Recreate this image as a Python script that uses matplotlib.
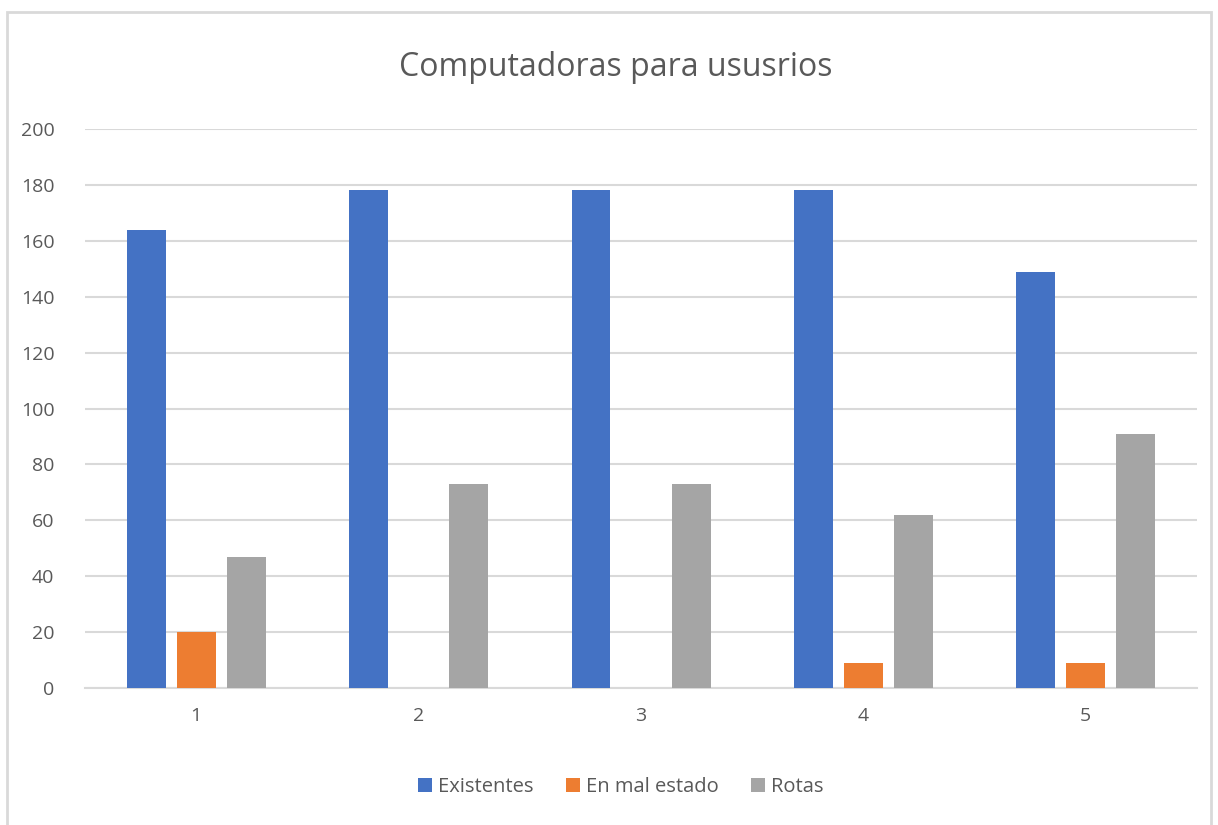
import matplotlib
matplotlib.use("Agg")
import matplotlib.pyplot as plt
import numpy as np
from matplotlib.patches import Rectangle

categories = ["1", "2", "3", "4", "5"]
existentes = [164, 178, 178, 178, 149]
mal_estado = [20, 0, 0, 9, 9]
rotas = [47, 73, 73, 62, 91]
series_names = ["Existentes", "En mal estado", "Rotas"]
colors = ["#4472C4", "#ED7D31", "#A5A5A5"]

plt.rcParams["font.family"] = ["Open Sans", "DejaVu Sans"]

fig = plt.figure(figsize=(12.18, 8.25), dpi=100)
ax = fig.add_axes([85 / 1218, 1 - 688 / 825, (1197 - 85) / 1218, (688 - 129) / 825])

# outer chart border
fig.patches.append(Rectangle((7 / 1218, -0.01), 1204 / 1218, 1 - 12 / 825 + 0.01,
                             transform=fig.transFigure, fill=False,
                             edgecolor="#D9D9D9", linewidth=2))

x = np.arange(len(categories))
w = 0.175
off = 0.225
for i, (vals, name) in enumerate(zip([existentes, mal_estado, rotas], series_names)):
    ax.bar(x + (i - 1) * off, vals, width=w, color=colors[i], label=name, zorder=3)

ax.set_xlim(-0.5, 4.5)
ax.set_ylim(0, 200)
ax.set_yticks(range(0, 201, 20))
ax.set_xticks(x)
ax.set_xticklabels(categories)
ax.grid(axis="y", color="#D9D9D9", linewidth=1.5, zorder=0)
for s in ["top", "right", "left"]:
    ax.spines[s].set_visible(False)
ax.spines["bottom"].set_color("#D9D9D9")
ax.spines["bottom"].set_linewidth(1.5)
ax.tick_params(axis="both", length=0, colors="#595959", labelsize=14)
ax.tick_params(axis="y", pad=22)
ax.tick_params(axis="x", pad=14)

fig.text(616 / 1218, 1 - 67 / 825, "Computadoras para ususrios", ha="center", va="center",
         fontsize=23, color="#595959")

fig.legend(loc="center", bbox_to_anchor=(621 / 1218, 1 - 787 / 825), ncol=3, frameon=False,
           fontsize=14.5, labelcolor="#595959", handlelength=0.7, handleheight=0.7,
           handletextpad=0.3, columnspacing=1.6)

fig.savefig("out.png", dpi=100)
